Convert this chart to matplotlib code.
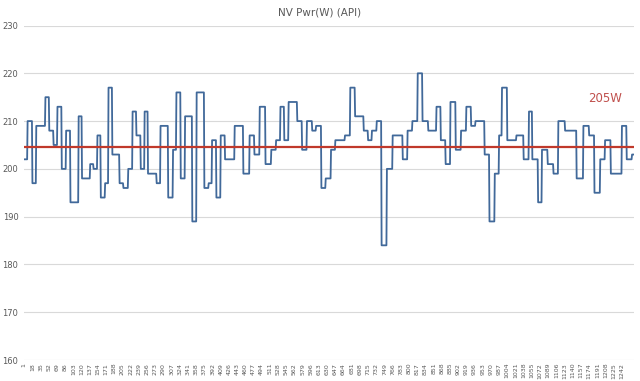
import numpy as np
import matplotlib
matplotlib.use("Agg")
import matplotlib.pyplot as plt

# Step series: sample index where each level starts, and the level (W)
change_idx = [1, 8, 18, 26, 45, 53, 62, 70, 79, 88, 97, 114, 121, 138, 145, 153, 160, 169, 176, 184,
              199, 207, 217, 226, 234, 243, 251, 258, 276, 284, 300, 310, 317, 326, 335, 350, 359, 375,
              384, 391, 400, 409, 418, 438, 456, 469, 479, 490, 502, 514, 524, 533, 541, 550, 568, 578,
              588, 599, 607, 618, 627, 638, 647, 667, 678, 688, 706, 715, 723, 733, 743, 754, 766, 787,
              797, 807, 818, 828, 840, 857, 866, 876, 886, 897, 908, 919, 929, 938, 957, 967, 978, 987,
              993, 1004, 1023, 1038, 1049, 1056, 1068, 1076, 1088, 1100, 1110, 1124, 1148, 1162, 1174,
              1185, 1197, 1207, 1219, 1242, 1252, 1263]
levels = [202, 210, 197, 209, 215, 208, 205, 213, 200, 208, 193, 211, 198, 201, 200, 207, 194, 197, 217, 203,
          197, 196, 200, 212, 207, 200, 212, 199, 197, 209, 194, 204, 216, 198, 211, 189, 216, 196,
          197, 206, 194, 207, 202, 209, 199, 207, 203, 213, 201, 204, 206, 213, 206, 214, 210, 204,
          210, 208, 209, 196, 198, 204, 206, 207, 217, 211, 208, 206, 208, 210, 184, 200, 207, 202,
          208, 210, 220, 210, 208, 213, 206, 201, 214, 204, 208, 213, 209, 210, 203, 189, 199, 207,
          217, 206, 207, 202, 212, 202, 193, 204, 201, 199, 210, 208, 198, 209, 207,
          195, 202, 206, 199, 209, 202, 203]
n_samples = 1266
target_value = 204.6
target_label = "205W"
title = "NV Pwr(W) (API)"
tick_labels = list(range(1, 1243, 17))

# Build the per-sample series from the step levels
bounds = change_idx + [n_samples + 1]
runs = np.diff(bounds)
series = np.repeat(levels, runs)
x = np.arange(1, n_samples + 1)

fig = plt.figure(figsize=(6.4, 3.81), dpi=100)
ax = fig.add_axes([0.0375, 0.0551, 0.9531, 0.8779])

ax.set_ylim(160, 230)
ax.set_xlim(0.5, n_samples + 1)
ax.set_yticks(range(160, 231, 10))
ax.grid(axis="y", color="#D9D9D9", linewidth=0.8)
ax.set_axisbelow(True)
for s in ax.spines.values():
    s.set_visible(False)

ax.plot(x, series, color="#41699A", linewidth=1.3, zorder=3)
ax.axhline(target_value, color="#C0392B", linewidth=1.6, zorder=4)
fig.text(605 / 640, 1 - 99 / 381, target_label, color="#C0504D", fontsize=8.5,
         ha="center", va="center")

ax.set_xticks(tick_labels)
ax.set_xticklabels([str(t) for t in tick_labels], rotation=90, fontsize=4.5, color="#595959")
ax.tick_params(axis="x", length=0, pad=2)
ax.tick_params(axis="y", length=0, labelsize=6, labelcolor="#595959", pad=4)

fig.text(0.5, 0.967, title, ha="center", va="center", fontsize=7.5, color="#595959")

fig.savefig("out.png", dpi=100)
